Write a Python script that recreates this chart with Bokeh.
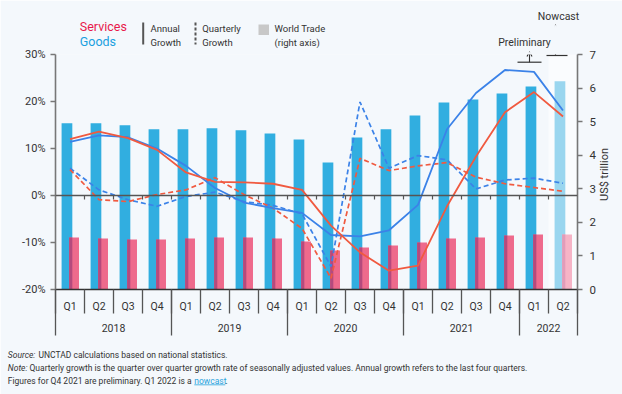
import numpy as np
from bokeh.plotting import figure
from bokeh.models import (Range1d, LinearAxis, FixedTicker, PrintfTickFormatter,
                          Span, Arrow, OpenHead)
from bokeh.core.properties import value
from bokeh.embed import file_html
from bokeh.resources import INLINE

# ---------------- data ----------------
quarters = ["Q1", "Q2", "Q3", "Q4", "Q1", "Q2", "Q3", "Q4", "Q1", "Q2", "Q3", "Q4",
            "Q1", "Q2", "Q3", "Q4", "Q1", "Q2"]
years = ["2018", "2019", "2020", "2021", "2022"]
quarters_per_year = [4, 4, 4, 4, 2]

# World trade, US$ trillion (right axis)
goods_trade = [4.95, 4.95, 4.89, 4.77, 4.77, 4.80, 4.74, 4.65, 4.47, 3.78, 4.53, 4.77,
               5.18, 5.57, 5.66, 5.84, 6.05, 6.20]
services_trade = [1.55, 1.52, 1.49, 1.49, 1.52, 1.55, 1.55, 1.52, 1.43, 1.16, 1.25, 1.31,
                  1.40, 1.52, 1.55, 1.61, 1.64, 1.64]

# Growth, % (left axis)
goods_annual = [11.4, 12.8, 12.4, 10.0, 6.3, 1.6, -1.5, -2.7, -3.7, -8.4, -8.7, -7.4,
                -2.0, 14.1, 21.8, 26.7, 26.3, 18.1]
services_annual = [12.0, 13.6, 12.2, 9.7, 4.9, 2.9, 2.8, 2.5, 1.2, -6.4, -12.1, -16.0,
                   -14.9, -2.3, 8.3, 17.7, 22.0, 16.8]
goods_quarterly = [5.8, 1.2, -0.9, -2.3, -0.2, 0.7, -1.3, -2.1, -3.9, -15.1, 19.9, 5.8,
                   8.5, 7.6, 1.4, 3.3, 3.7, 2.6]
services_quarterly = [5.5, -0.9, -1.3, 0.2, 1.2, 3.8, 0.2, -2.7, -7.0, -17.6, 7.9, 5.3,
                      6.3, 7.0, 3.9, 2.5, 1.7, 0.9]

left_ticks = [-20, -10, 0, 10, 20, 30]
right_ticks = [0, 1, 2, 3, 4, 5, 6, 7]

# ---------------- styling ----------------
FONT = "Roboto"
BG = "#f4f8fc"
TXT = "#333333"
C_GOODS_BAR = "#31aee0"
C_GOODS_BAR_NOW = "#9ad6ef"
C_SERV_BAR = "#ee6a8c"
C_SERV_BAR_NOW = "#f6b4c6"
C_OVER = "#b54a7d"
C_OVER_NOW = "#e19cb9"
C_GOODS_LINE = "#3b82e8"
C_SERV_LINE = "#f05a40"

W, H = 622, 394
FL, FT, FW, FH = 55, 54, 522, 235
N = len(quarters)
Y0, Y1 = left_ticks[0], left_ticks[-1]
T0, T1 = right_ticks[0], right_ticks[-1]


def px2x(px):
    return (px - FL) * N / FW


def py2y(py):
    return Y1 - (py - FT) * (Y1 - Y0) / FH


p = figure(width=W, height=H, x_range=Range1d(0, N), y_range=Range1d(Y0, Y1),
           output_backend="svg", toolbar_location=None,
           x_axis_location=None, y_axis_location=None,
           min_border_left=FL, min_border_right=W - FL - FW,
           min_border_top=FT, min_border_bottom=H - FT - FH,
           background_fill_color=BG, border_fill_color=BG, outline_line_color=None)
p.grid.visible = False
p.extra_y_ranges = {"trade": Range1d(T0, T1)}

centers = np.arange(N) + 0.5
last = N - 1

# highlight of the nowcast column
p.quad(left=[last], right=[N], bottom=[Y0], top=[Y1], fill_color="white",
       fill_alpha=0.55, line_color=None, level="underlay")

# bars
g_cols = [C_GOODS_BAR] * (N - 1) + [C_GOODS_BAR_NOW]
s_cols = [C_SERV_BAR] * (N - 1) + [C_SERV_BAR_NOW]
o_cols = [C_OVER] * (N - 1) + [C_OVER_NOW]
g_l, g_r = -0.29, 0.08
s_l, s_r = -0.03, 0.31
p.vbar(x=centers + (g_l + g_r) / 2, width=g_r - g_l, top=goods_trade, bottom=0,
       y_range_name="trade", fill_color=g_cols, line_color=None)
p.vbar(x=centers + (s_l + s_r) / 2, width=s_r - s_l, top=services_trade, bottom=0,
       y_range_name="trade", fill_color=s_cols, line_color=None)
p.vbar(x=centers + (s_l + g_r) / 2, width=g_r - s_l, top=services_trade, bottom=0,
       y_range_name="trade", fill_color=o_cols, line_color=None)

# zero line and its small ticks
p.add_layout(Span(location=0, dimension="width", line_color="#555555", line_width=1.6))
bx = np.arange(1, N)
p.segment(x0=bx, y0=0, x1=bx, y1=-0.85, line_color="#555555", line_width=1.2)

# growth lines
p.line(centers, goods_quarterly, line_color=C_GOODS_LINE, line_width=1.7, line_dash="5 3")
p.line(centers, services_quarterly, line_color=C_SERV_LINE, line_width=1.7, line_dash="5 3")
p.line(centers, goods_annual, line_color=C_GOODS_LINE, line_width=1.8)
p.line(centers, services_annual, line_color=C_SERV_LINE, line_width=1.8)

# ---------------- axes ----------------
ly = LinearAxis(ticker=FixedTicker(ticks=left_ticks, minor_ticks=[]),
                formatter=PrintfTickFormatter(format="%d%%"))
ly.axis_line_color = "#777777"
ly.axis_line_width = 1.6
ly.major_tick_line_color = "#777777"
ly.major_tick_line_width = 1.4
ly.major_tick_out = 5
ly.major_tick_in = 0
ly.major_label_standoff = 5
ly.major_label_text_font = FONT
ly.major_label_text_font_size = "11px"
ly.major_label_text_color = TXT
p.add_layout(ly, "left")

ry = LinearAxis(y_range_name="trade", ticker=FixedTicker(ticks=right_ticks, minor_ticks=[]))
ry.axis_line_color = "#777777"
ry.axis_line_width = 1.6
ry.major_tick_line_color = "#777777"
ry.major_tick_line_width = 1.4
ry.major_tick_out = 5
ry.major_tick_in = 0
ry.major_label_standoff = 7
ry.major_label_text_font = FONT
ry.major_label_text_font_size = "11.5px"
ry.major_label_text_color = TXT
p.add_layout(ry, "right")

bx_axis = LinearAxis(ticker=FixedTicker(ticks=list(centers), minor_ticks=[]),
                     major_label_overrides={float(c): q for c, q in zip(centers, quarters)})
bx_axis.axis_line_color = "#333333"
bx_axis.axis_line_width = 1.6
bx_axis.major_tick_line_color = None
bx_axis.major_tick_out = 0
bx_axis.major_tick_in = 0
bx_axis.major_label_standoff = 10
bx_axis.major_label_text_font = FONT
bx_axis.major_label_text_font_size = "10.5px"
bx_axis.major_label_text_color = TXT
p.add_layout(bx_axis, "below")

# quarter separators, year separators and year labels
qb = np.arange(N + 1)
p.segment(x0=qb, y0=py2y(289), x1=qb, y1=py2y(313), line_color="#555555",
          line_width=1.3, level="overlay")
bounds = np.concatenate([[0], np.cumsum(quarters_per_year)])
p.segment(x0=bounds, y0=py2y(289), x1=bounds, y1=py2y(335), line_color="#555555",
          line_width=1.3, level="overlay")
year_mid = (bounds[:-1] + bounds[1:]) / 2
p.text(x=year_mid, y=py2y(327.5), text=years, text_font=value(FONT),
       text_font_size=value("10.5px"), text_color=TXT, text_align="center",
       text_baseline="middle", level="overlay")

p.text(x=[px2x(604)], y=[py2y(174)], text=["US$ trillion"], angle=np.pi / 2,
       text_font=value(FONT), text_font_size=value("11px"), text_color=TXT,
       text_align="center", text_baseline="middle", level="overlay")

# ---------------- legend ----------------
p.scatter(x=[px2x(66.7), px2x(66.7)], y=[py2y(25.7), py2y(40.3)], size=10.5,
          fill_color=["#e8194b", "#199fdf"], line_color=None, level="overlay")
p.text(x=[px2x(79.3)], y=[py2y(26)], text=["Services"], text_font=value(FONT),
       text_font_size=value("12.5px"), text_color="#e8194b", text_baseline="middle",
       level="overlay")
p.text(x=[px2x(79.3)], y=[py2y(40.6)], text=["Goods"], text_font=value(FONT),
       text_font_size=value("12.5px"), text_color="#199fdf", text_baseline="middle",
       level="overlay")
p.segment(x0=[px2x(142.7)], y0=[py2y(22)], x1=[px2x(142.7)], y1=[py2y(44)],
          line_color="#555555", line_width=2, level="overlay")
p.segment(x0=[px2x(195)], y0=[py2y(22)], x1=[px2x(195)], y1=[py2y(44)],
          line_color="#555555", line_width=2, line_dash="3 2", level="overlay")
p.quad(left=[px2x(258)], right=[px2x(268.5)], top=[py2y(24)], bottom=[py2y(34.5)],
       fill_color="#c8c8c8", line_color=None, level="overlay")
leg_x = [px2x(150), px2x(150), px2x(201.7), px2x(201.7), px2x(274), px2x(274)]
leg_y = [py2y(28), py2y(41.5)] * 3
leg_t = ["Annual", "Growth", "Quarterly", "Growth", "World Trade", "(right axis)"]
p.text(x=leg_x, y=leg_y, text=leg_t, text_font=value(FONT), text_font_size=value("9.5px"),
       text_color=TXT, text_baseline="middle", level="overlay")

# ---------------- preliminary / nowcast marks ----------------
p.segment(x0=[px2x(517), px2x(546)], y0=[py2y(61.7), py2y(55)],
          x1=[px2x(541), px2x(567)], y1=[py2y(61.7), py2y(55)],
          line_color="#333333", line_width=1.2, level="overlay")
p.add_layout(Arrow(end=OpenHead(size=5, line_color="#333333", line_width=1.1),
                   x_start=px2x(529), y_start=py2y(61.7), x_end=px2x(529), y_end=py2y(51),
                   line_color="#333333", line_width=1.1))
p.add_layout(Arrow(end=OpenHead(size=5, line_color="#333333", line_width=1.1),
                   x_start=px2x(555), y_start=py2y(55), x_end=px2x(555), y_end=py2y(24),
                   line_color="#333333", line_width=1.1))
p.text(x=[px2x(524), px2x(558)], y=[py2y(41.7), py2y(16)], text=["Preliminary", "Nowcast"],
       text_font=value(FONT), text_font_size=value("10.5px"), text_color=TXT,
       text_align="center", text_baseline="middle", level="overlay")

# ---------------- footnotes ----------------
FN = "8.5px"
p.text(x=[px2x(7.3), px2x(7.3)], y=[py2y(354), py2y(367)], text=["Source:", "Note:"],
       text_font=value(FONT), text_font_size=value(FN), text_font_style="italic",
       text_color=TXT, text_baseline="middle", level="overlay")
p.text(x=[px2x(38), px2x(29)], y=[py2y(354), py2y(367)],
       text=["UNCTAD calculations based on national statistics.",
             "Quarterly growth is the quarter over quarter growth rate of seasonally adjusted values. Annual growth refers to the last four quarters."],
       text_font=value(FONT), text_font_size=value(FN), text_color=TXT,
       text_baseline="middle", level="overlay")
p.text(x=[px2x(7.3)], y=[py2y(380)], text=["Figures for Q4 2021 are preliminary. Q1 2022 is a"],
       text_font=value(FONT), text_font_size=value(FN), text_color=TXT,
       text_baseline="middle", level="overlay")
p.text(x=[px2x(193.8)], y=[py2y(380)], text=["nowcast"], text_font=value(FONT),
       text_font_size=value(FN), text_color="#2aa3dc", text_baseline="middle",
       level="overlay")
p.text(x=[px2x(225)], y=[py2y(380)], text=["."], text_font=value(FONT),
       text_font_size=value(FN), text_color=TXT, text_baseline="middle", level="overlay")
p.segment(x0=[px2x(193.8)], y0=[py2y(384.3)], x1=[px2x(224.8)], y1=[py2y(384.3)],
          line_color="#2aa3dc", line_width=0.8, level="overlay")

open("out.html", "w").write(file_html(p, INLINE))
